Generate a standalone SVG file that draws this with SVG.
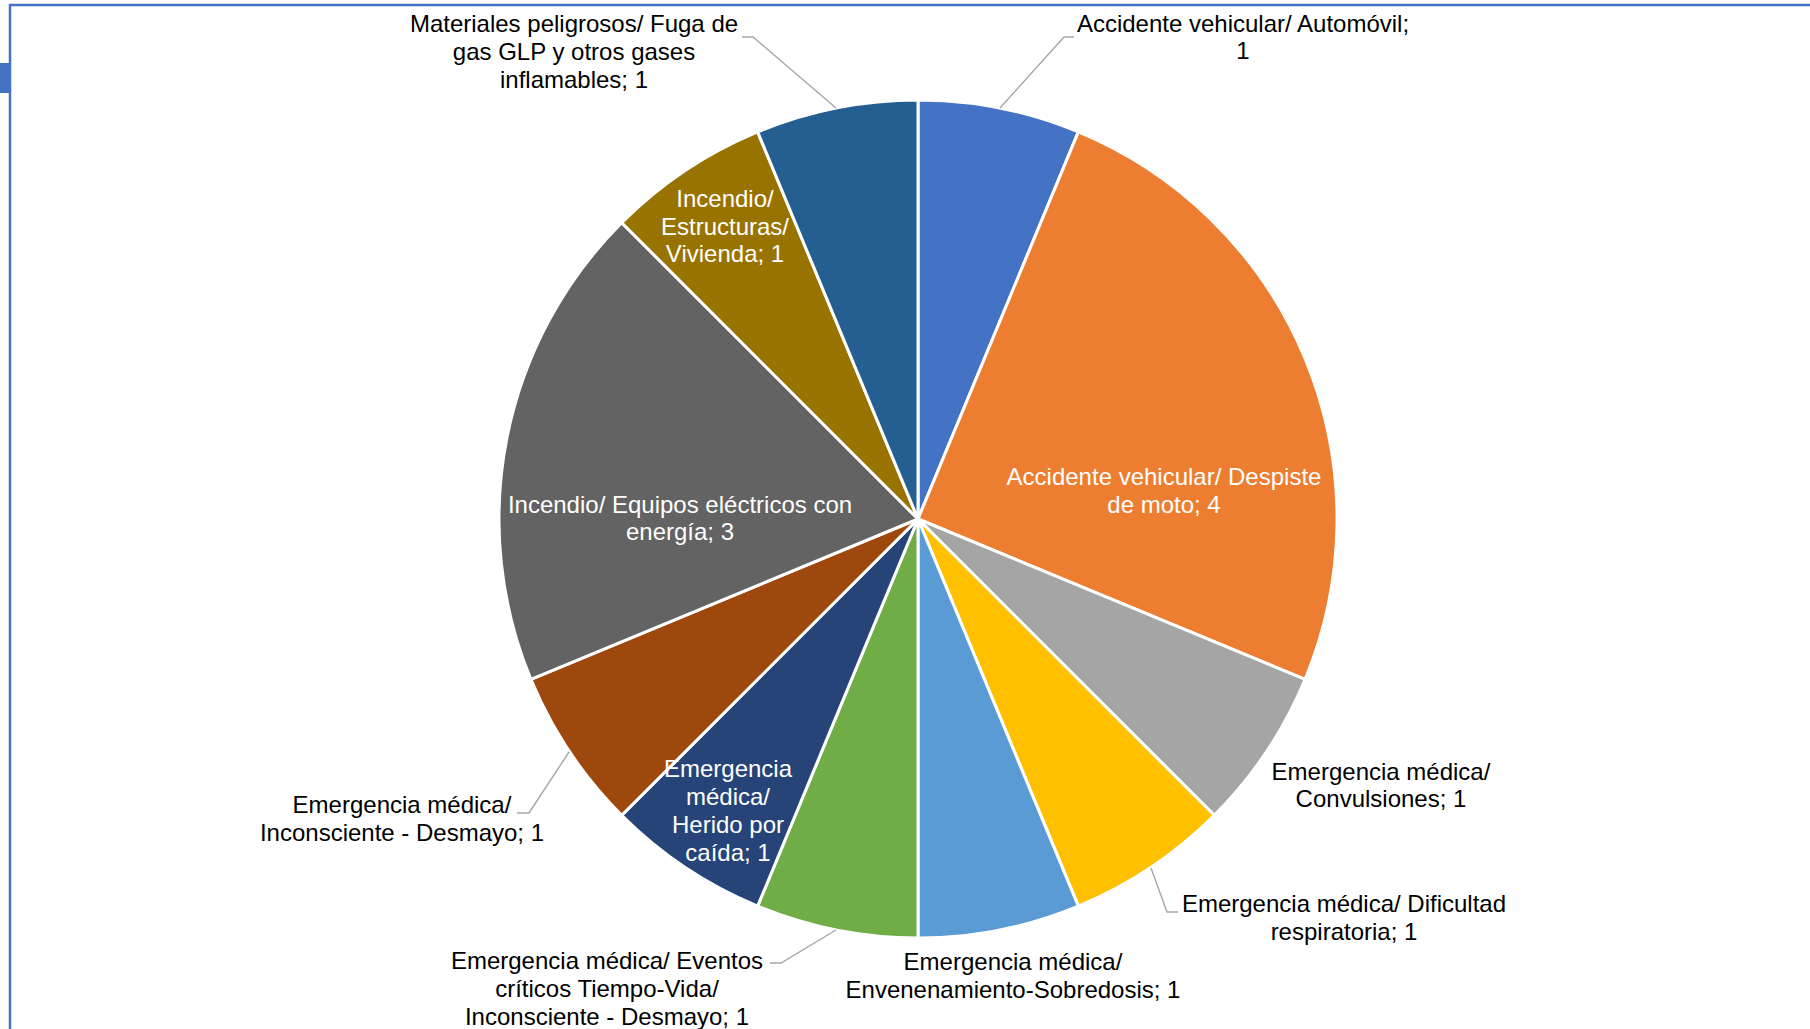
<svg xmlns="http://www.w3.org/2000/svg" width="1810" height="1029" viewBox="0 0 1810 1029">
<style>
text{font-family:"Liberation Sans",Arial,sans-serif;font-size:24px;text-anchor:middle;fill:#000}
text.w{fill:#fff}
.s{stroke:#fff;stroke-width:3;stroke-linejoin:round}
.ld{fill:none;stroke:#A6A6A6;stroke-width:1.4}
</style>
<rect x="0" y="0" width="1810" height="1029" fill="#fff"/>
<g id="frame">
<line x1="9" y1="5" x2="1810" y2="5" stroke="#4472C4" stroke-width="2.5"/>
<line x1="10" y1="4" x2="10" y2="1029" stroke="#4472C4" stroke-width="2.5"/>
<rect x="0" y="63" width="10" height="30" fill="#4472C4"/>
</g>
<g id="slices">
<g id="s-automovil"><path class="s" fill="#4472C4" d="M918,519 L918,100 A419,419 0 0 1 1078.35,131.89 Z"/></g>
<g id="s-despiste"><path class="s" fill="#ED7D31" d="M918,519 L1078.35,131.89 A419,419 0 0 1 1305.11,679.35 Z"/></g>
<g id="s-convulsiones"><path class="s" fill="#A5A5A5" d="M918,519 L1305.11,679.35 A419,419 0 0 1 1214.28,815.28 Z"/></g>
<g id="s-dificultad"><path class="s" fill="#FFC000" d="M918,519 L1214.28,815.28 A419,419 0 0 1 1078.35,906.11 Z"/></g>
<g id="s-envenenamiento"><path class="s" fill="#5B9BD5" d="M918,519 L1078.35,906.11 A419,419 0 0 1 918,938 Z"/></g>
<g id="s-eventos"><path class="s" fill="#70AD47" d="M918,519 L918,938 A419,419 0 0 1 757.65,906.11 Z"/></g>
<g id="s-herido"><path class="s" fill="#264478" d="M918,519 L757.65,906.11 A419,419 0 0 1 621.72,815.28 Z"/></g>
<g id="s-inconsciente"><path class="s" fill="#9E480E" d="M918,519 L621.72,815.28 A419,419 0 0 1 530.89,679.35 Z"/></g>
<g id="s-equipos"><path class="s" fill="#636363" d="M918,519 L530.89,679.35 A419,419 0 0 1 621.72,222.72 Z"/></g>
<g id="s-estructuras"><path class="s" fill="#997300" d="M918,519 L621.72,222.72 A419,419 0 0 1 757.65,131.89 Z"/></g>
<g id="s-materiales"><path class="s" fill="#255E91" d="M918,519 L757.65,131.89 A419,419 0 0 1 918,100 Z"/></g>
</g>
<g id="connectors">
<polyline class="ld" points="1000,108 1064,37 1074,37"/>
<polyline class="ld" points="836,108 753,37 742,37"/>
<polyline class="ld" points="1151,868 1167,912 1178,912"/>
<polyline class="ld" points="836,930 781,963 770,963"/>
<polyline class="ld" points="569,752 529,813 517,813"/>
</g>
<g id="labels">
<g id="l-automovil"><text x="1243" y="32">Accidente vehicular/ Automóvil;</text><text x="1243" y="59">1</text></g>
<g id="l-despiste"><text class="w" x="1164" y="485">Accidente vehicular/ Despiste</text><text class="w" x="1164" y="513">de moto; 4</text></g>
<g id="l-convulsiones"><text x="1381" y="780">Emergencia médica/</text><text x="1381" y="807">Convulsiones; 1</text></g>
<g id="l-dificultad"><text x="1344" y="912">Emergencia médica/ Dificultad</text><text x="1344" y="940">respiratoria; 1</text></g>
<g id="l-envenenamiento"><text x="1013" y="970">Emergencia médica/</text><text x="1013" y="998">Envenenamiento-Sobredosis; 1</text></g>
<g id="l-eventos"><text x="607" y="969">Emergencia médica/ Eventos</text><text x="607" y="997">críticos Tiempo-Vida/</text><text x="607" y="1025">Inconsciente - Desmayo; 1</text></g>
<g id="l-herido"><text class="w" x="728" y="777">Emergencia</text><text class="w" x="728" y="805">médica/</text><text class="w" x="728" y="833">Herido por</text><text class="w" x="728" y="861">caída; 1</text></g>
<g id="l-inconsciente"><text x="402" y="813">Emergencia médica/</text><text x="402" y="841">Inconsciente - Desmayo; 1</text></g>
<g id="l-equipos"><text class="w" x="680" y="513">Incendio/ Equipos eléctricos con</text><text class="w" x="680" y="540">energía; 3</text></g>
<g id="l-estructuras"><text class="w" x="725" y="207">Incendio/</text><text class="w" x="725" y="235">Estructuras/</text><text class="w" x="725" y="262">Vivienda; 1</text></g>
<g id="l-materiales"><text x="574" y="32">Materiales peligrosos/ Fuga de</text><text x="574" y="60">gas GLP y otros gases</text><text x="574" y="88">inflamables; 1</text></g>
</g>
</svg>
